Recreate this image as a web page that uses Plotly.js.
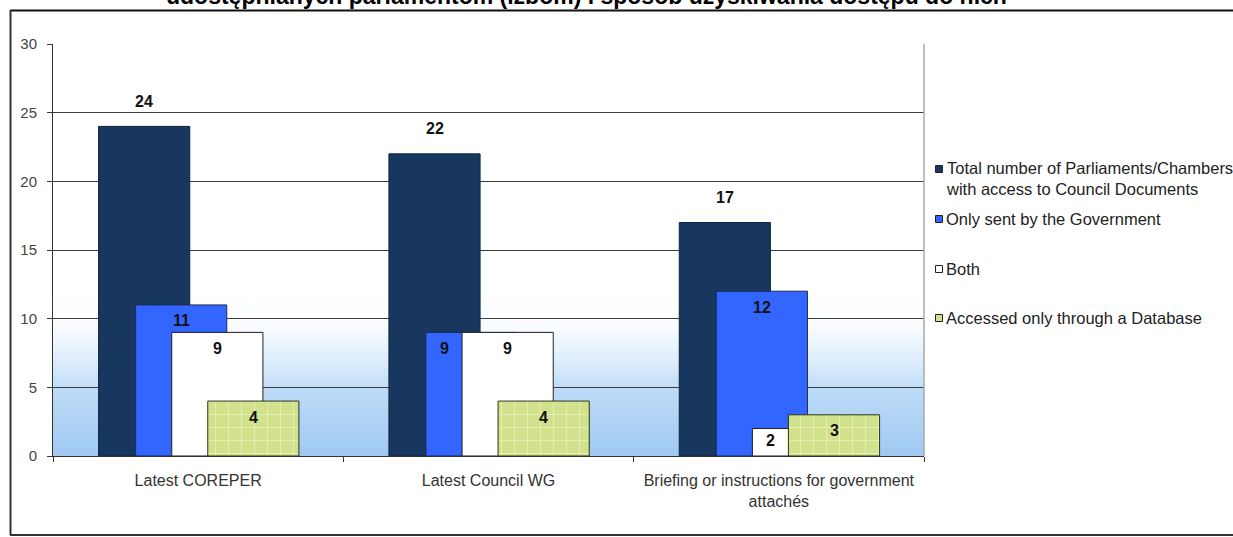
<!DOCTYPE html>
<html>
<head>
<meta charset="utf-8">
<script src="https://cdn.plot.ly/plotly-3.0.1.min.js"></script>
<style>html,body{margin:0;padding:0;background:#fff;}#chart{width:1233px;height:537px;}</style>
</head>
<body>
<div id="chart"></div>
<script>
// ---- data ----
const categories = ['Latest COREPER', 'Latest Council WG', 'Briefing or instructions for government<br>attachés'];
const seriesNames = [
  'Total number of Parliaments/Chambers<br>with access to Council Documents',
  'Only sent by the Government',
  'Both',
  'Accessed only through a Database'
];
const totalWithAccess = [24, 22, 17];
const onlySentByGovernment = [11, 9, 12];
const bothWays = [9, 9, 2];
const onlyThroughDatabase = [4, 4, 3];
const titleText = 'udostępnianych parlamentom (izbom) i sposób uzyskiwania dostępu do nich';

// ---- style / layout constants ----
const W = 1233, H = 537;
const M = {l: 53, r: W - 924, t: 44, b: H - 456};
const plotW = W - M.l - M.r, plotH = H - M.t - M.b;
const yMax = 30;
const pxPerUnit = plotH / yMax;
const px2x = px => (px - M.l) / plotW;
const py2y = py => (H - M.b - py) / plotH;
const FONT = 'Liberation Sans, Arial, sans-serif';

const seriesValues = [totalWithAccess, onlySentByGovernment, bothWays, onlyThroughDatabase];
const barWidth = 0.314;
const barOffsets = [-0.343, -0.2155, -0.091, 0.033];
const fillColors = ['#17375e', '#3366ff', '#ffffff', '#d2e28c'];
const lineColors = ['#0f2440', '#1b2a55', '#222222', '#2a3315'];

const traces = seriesValues.map((vals, i) => {
  const t = {
    type: 'bar', x: categories, y: vals, name: seriesNames[i],
    width: barWidth, offset: barOffsets[i],
    marker: {color: fillColors[i], line: {color: lineColors[i], width: 1}},
    hoverinfo: 'skip', showlegend: false
  };
  if (i === 3) {
    t.marker.pattern = {shape: '+', fgcolor: '#eef5c6', bgcolor: fillColors[i], size: 13, solidity: 0.1, fillmode: 'replace'};
  }
  return t;
});

// data labels
const annotations = [];
seriesValues.forEach((vals, i) => {
  vals.forEach((v, c) => {
    let xc = c + barOffsets[i] + barWidth / 2;
    let yshift;
    if (i === 0) {
      yshift = 25;
    } else {
      const next = seriesValues[i + 1];
      if (next && next[c] >= v - 1) {
        xc = c + barOffsets[i] + (barOffsets[i + 1] - barOffsets[i]) / 2;
      }
      yshift = -Math.min(16, v * pxPerUnit * 0.42);
    }
    annotations.push({
      x: xc, y: v, xref: 'x', yref: 'y', text: String(v), showarrow: false,
      xanchor: 'center', yanchor: 'middle', yshift: yshift,
      font: {family: FONT, size: 16, color: '#111', weight: 'bold'}
    });
  });
});

// title (clipped at the top edge)
annotations.push({
  x: px2x(586), y: py2y(-4.5), xref: 'paper', yref: 'paper', text: '<b>' + titleText + '</b>',
  showarrow: false, xanchor: 'center', yanchor: 'middle',
  font: {family: FONT, size: 23, color: '#000'}
});

// legend (custom)
const legendY = [178.5, 219, 269, 318];
const legendSqY = [169, 219, 269, 318];
const shapes = [];
seriesNames.forEach((n, i) => {
  annotations.push({
    x: px2x(944), y: py2y(legendY[i]), xref: 'paper', yref: 'paper', text: n,
    showarrow: false, xanchor: 'left', yanchor: 'middle', align: 'left',
    font: {family: FONT, size: 16.5, color: '#222'}
  });
  shapes.push({
    type: 'rect', xref: 'paper', yref: 'paper',
    x0: px2x(935.5), x1: px2x(942.5), y0: py2y(legendSqY[i] + 3.5), y1: py2y(legendSqY[i] - 3.5),
    fillcolor: fillColors[i], line: {color: '#222', width: 1}
  });
});

// plot area right border and outer frame
shapes.push({type: 'line', xref: 'paper', yref: 'paper', x0: 1, x1: 1, y0: 0, y1: 1, line: {color: '#a8a8a8', width: 1.5}});
shapes.push({type: 'line', xref: 'paper', yref: 'paper', x0: px2x(10), x1: px2x(1240), y0: py2y(10.5), y1: py2y(10.5), line: {color: '#111', width: 2}});
shapes.push({type: 'line', xref: 'paper', yref: 'paper', x0: px2x(10.5), x1: px2x(10.5), y0: py2y(10), y1: py2y(535), line: {color: '#333', width: 2}});
shapes.push({type: 'line', xref: 'paper', yref: 'paper', x0: px2x(10), x1: px2x(1240), y0: py2y(535), y1: py2y(535), line: {color: '#333', width: 2}});

// background gradient
const svg = "<svg xmlns='http://www.w3.org/2000/svg' width='100' height='100' preserveAspectRatio='none'>" +
  "<defs><linearGradient id='g' x1='0' y1='0' x2='0' y2='1'>" +
  "<stop offset='0' stop-color='#ffffff'/><stop offset='0.2' stop-color='#fbfdff'/>" +
  "<stop offset='0.45' stop-color='#d9ebfb'/><stop offset='0.6' stop-color='#bddbf7'/>" +
  "<stop offset='1' stop-color='#a0c9f2'/></linearGradient></defs>" +
  "<rect width='100' height='100' fill='url(#g)'/></svg>";
const bgImage = 'data:image/svg+xml;charset=utf-8,' + encodeURIComponent(svg);

const layout = {
  width: W, height: H, margin: M,
  paper_bgcolor: '#ffffff', plot_bgcolor: 'rgba(0,0,0,0)',
  barmode: 'overlay', showlegend: false,
  font: {family: FONT, color: '#333'},
  xaxis: {
    type: 'category', range: [-0.5, 2.5], showline: true, linecolor: '#333', linewidth: 1,
    ticks: 'outside', tickson: 'boundaries', ticklen: 5, tickcolor: '#333',
    showgrid: false, zeroline: false, fixedrange: true,
    tickfont: {family: FONT, size: 16, color: '#333'}, ticklabelstandoff: 10
  },
  yaxis: {
    range: [0, yMax], dtick: 5, showline: true, linecolor: '#333', linewidth: 1,
    ticks: 'outside', ticklen: 5, tickcolor: '#333',
    showgrid: true, gridcolor: '#3c3c3c', gridwidth: 1, zeroline: false, fixedrange: true,
    tickfont: {family: FONT, size: 15, color: '#444'}, ticklabelstandoff: 7
  },
  images: [{source: bgImage, xref: 'paper', yref: 'y', x: 0, y: 12, sizex: 1, sizey: 12,
    sizing: 'stretch', xanchor: 'left', yanchor: 'top', layer: 'below'}],
  annotations: annotations,
  shapes: shapes
};

Plotly.newPlot('chart', traces, layout, {staticPlot: true, displayModeBar: false});
</script>
</body>
</html>
